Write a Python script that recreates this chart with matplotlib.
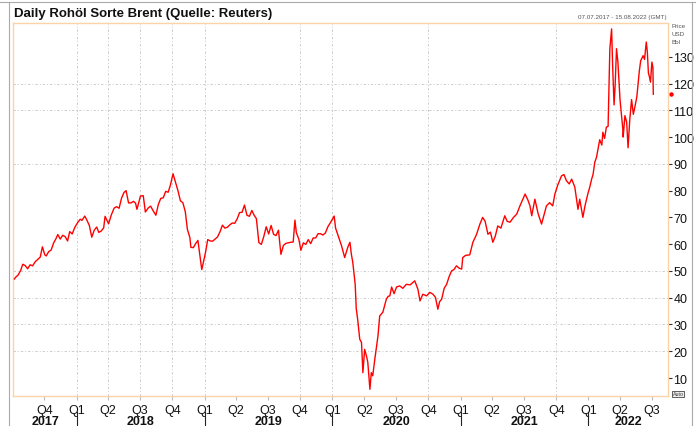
import matplotlib
matplotlib.use("Agg")
import matplotlib.pyplot as plt
import matplotlib.transforms as mtransforms
import pandas as pd

plt.rcParams['font.family'] = ['Liberation Sans', 'DejaVu Sans']

# Brent daily close (USD/bbl)
dates = [
    "2017-07-07", "2017-07-12", "2017-07-18", "2017-07-25", "2017-07-31", "2017-08-07",
    "2017-08-14", "2017-08-21", "2017-08-28", "2017-09-05", "2017-09-12", "2017-09-19",
    "2017-09-25", "2017-10-02", "2017-10-06", "2017-10-13", "2017-10-20", "2017-10-27",
    "2017-11-03", "2017-11-08", "2017-11-15", "2017-11-22", "2017-11-29", "2017-12-06",
    "2017-12-12", "2017-12-19", "2017-12-27", "2018-01-04", "2018-01-11", "2018-01-16",
    "2018-01-24", "2018-01-30", "2018-02-06", "2018-02-13", "2018-02-20", "2018-02-27",
    "2018-03-05", "2018-03-12", "2018-03-19", "2018-03-23", "2018-04-02", "2018-04-10",
    "2018-04-18", "2018-04-25", "2018-05-02", "2018-05-09", "2018-05-16", "2018-05-22",
    "2018-05-29", "2018-06-05", "2018-06-12", "2018-06-18", "2018-06-22", "2018-07-02",
    "2018-07-10", "2018-07-16", "2018-07-24", "2018-07-31", "2018-08-08", "2018-08-15",
    "2018-08-22", "2018-08-29", "2018-09-05", "2018-09-12", "2018-09-19", "2018-09-25",
    "2018-10-03", "2018-10-10", "2018-10-17", "2018-10-24", "2018-10-31", "2018-11-07",
    "2018-11-13", "2018-11-20", "2018-11-23", "2018-11-30", "2018-12-06", "2018-12-13",
    "2018-12-18", "2018-12-24", "2018-12-27", "2019-01-04", "2019-01-10", "2019-01-17",
    "2019-01-24", "2019-01-31", "2019-02-07", "2019-02-14", "2019-02-21", "2019-02-28",
    "2019-03-07", "2019-03-14", "2019-03-21", "2019-03-28", "2019-04-04", "2019-04-11",
    "2019-04-18", "2019-04-25", "2019-05-02", "2019-05-09", "2019-05-16", "2019-05-22",
    "2019-05-29", "2019-06-05", "2019-06-12", "2019-06-19", "2019-06-26", "2019-07-03",
    "2019-07-10", "2019-07-17", "2019-07-24", "2019-07-31", "2019-08-07", "2019-08-14",
    "2019-08-21", "2019-08-28", "2019-09-04", "2019-09-11", "2019-09-16", "2019-09-20",
    "2019-09-27", "2019-10-03", "2019-10-10", "2019-10-17", "2019-10-24", "2019-10-31",
    "2019-11-07", "2019-11-14", "2019-11-21", "2019-11-28", "2019-12-05", "2019-12-12",
    "2019-12-19", "2019-12-27", "2020-01-06", "2020-01-10", "2020-01-16", "2020-01-27",
    "2020-02-05", "2020-02-14", "2020-02-20", "2020-02-24", "2020-02-28", "2020-03-06",
    "2020-03-09", "2020-03-13", "2020-03-19", "2020-03-24", "2020-03-28", "2020-04-02",
    "2020-04-07", "2020-04-11", "2020-04-17", "2020-04-21", "2020-04-25", "2020-05-01",
    "2020-05-10", "2020-05-15", "2020-05-24", "2020-06-03", "2020-06-08", "2020-06-13",
    "2020-06-18", "2020-06-25", "2020-07-02", "2020-07-11", "2020-07-20", "2020-07-30",
    "2020-08-10", "2020-08-23", "2020-09-01", "2020-09-07", "2020-09-15", "2020-09-26",
    "2020-10-05", "2020-10-14", "2020-10-21", "2020-10-28", "2020-11-02", "2020-11-08",
    "2020-11-15", "2020-11-22", "2020-11-29", "2020-12-06", "2020-12-13", "2020-12-20",
    "2020-12-28", "2021-01-04", "2021-01-07", "2021-01-15", "2021-01-27", "2021-02-05",
    "2021-02-15", "2021-02-25", "2021-03-05", "2021-03-12", "2021-03-20", "2021-03-27",
    "2021-04-03", "2021-04-10", "2021-04-17", "2021-04-26", "2021-05-07", "2021-05-14",
    "2021-05-22", "2021-06-01", "2021-06-10", "2021-06-20", "2021-07-04", "2021-07-12",
    "2021-07-18", "2021-07-23", "2021-08-01", "2021-08-10", "2021-08-20", "2021-09-03",
    "2021-09-12", "2021-09-21", "2021-09-27", "2021-10-05", "2021-10-16", "2021-10-23",
    "2021-10-30", "2021-11-07", "2021-11-14", "2021-11-23", "2021-11-28", "2021-12-02",
    "2021-12-07", "2021-12-16", "2021-12-22", "2021-12-30", "2022-01-05", "2022-01-10",
    "2022-01-14", "2022-01-19", "2022-01-24", "2022-02-02", "2022-02-08", "2022-02-11",
    "2022-02-16", "2022-02-21", "2022-02-26", "2022-03-03", "2022-03-08", "2022-03-11",
    "2022-03-15", "2022-03-18", "2022-03-22", "2022-03-26", "2022-04-01", "2022-04-05",
    "2022-04-09", "2022-04-10", "2022-04-15", "2022-04-20", "2022-04-24", "2022-04-29",
    "2022-05-04", "2022-05-09", "2022-05-14", "2022-05-19", "2022-05-22", "2022-05-26",
    "2022-05-30", "2022-06-06", "2022-06-10", "2022-06-15", "2022-06-18", "2022-06-21",
    "2022-06-24", "2022-06-27", "2022-07-01", "2022-07-04", "2022-07-05",
]
prices = [
    47.0, 47.8, 48.5, 50.2, 52.5, 52.0,
    50.8, 52.3, 51.9, 53.5, 54.3, 55.2,
    59.0, 56.0, 55.6, 57.2, 57.8, 60.4,
    62.1, 63.6, 61.9, 63.3, 62.8, 61.2,
    64.7, 63.8, 66.4, 68.1, 69.3, 68.9,
    70.5, 69.0, 67.0, 62.6, 65.2, 66.4,
    64.4, 64.9, 66.1, 70.4, 67.6, 71.0,
    73.5, 74.0, 73.4, 77.2, 79.3, 80.0,
    75.4, 75.4, 76.0, 75.3, 73.0, 78.0,
    78.1, 72.0, 73.5, 74.2, 72.3, 70.8,
    74.8, 77.1, 77.3, 79.7, 79.4, 81.8,
    86.3, 83.1, 80.0, 76.2, 75.5, 72.1,
    65.5, 62.5, 58.8, 58.7, 60.1, 61.4,
    56.3, 50.5, 52.2, 57.1, 61.7, 61.2,
    61.1, 61.9, 62.7, 64.6, 67.1, 66.0,
    66.3, 67.2, 67.9, 67.8, 69.4, 71.8,
    71.9, 74.6, 70.8, 70.4, 72.6, 70.9,
    69.5, 60.6, 59.9, 62.8, 66.5, 63.8,
    67.0, 63.7, 63.2, 65.2, 56.2, 59.5,
    60.3, 60.5, 60.7, 60.8, 69.0, 64.3,
    61.9, 57.7, 60.5, 59.9, 61.7, 60.2,
    62.3, 62.3, 63.9, 63.9, 63.4, 64.2,
    66.5, 68.2, 70.5, 66.0, 63.7, 59.4,
    55.0, 58.9, 60.7, 56.3, 53.3, 45.0,
    36.0, 32.0, 24.5, 23.3, 12.0, 20.7,
    18.3, 15.9, 5.8, 12.0, 10.8, 17.0,
    25.7, 33.2, 34.6, 39.5, 40.5, 40.7,
    44.0, 41.5, 44.0, 44.4, 43.5, 45.0,
    44.8, 46.3, 43.2, 38.8, 41.3, 40.7,
    42.0, 41.3, 40.2, 35.7, 38.5, 39.5,
    43.5, 45.0, 47.8, 50.0, 50.5, 51.9,
    51.0, 50.7, 55.0, 55.8, 56.0, 60.7,
    63.5, 67.5, 70.0, 68.5, 63.7, 64.5,
    60.7, 63.0, 66.8, 66.0, 70.6, 68.5,
    68.2, 70.0, 71.2, 74.5, 78.7, 76.5,
    74.3, 70.6, 76.8, 71.5, 67.5, 74.3,
    75.5, 74.3, 78.7, 82.0, 85.5, 86.0,
    83.7, 82.5, 84.3, 81.3, 76.8, 73.0,
    76.8, 70.0, 74.3, 78.7, 81.5, 84.3,
    86.0, 90.6, 92.5, 99.0, 97.0, 101.8,
    99.5, 103.7, 104.0, 133.0, 140.4, 126.6,
    112.0, 119.0, 133.0, 128.0, 114.0, 108.5,
    103.0, 100.0, 108.0, 105.6, 96.0, 106.7,
    114.0, 108.5, 111.6, 115.0, 119.0, 124.5,
    128.5, 130.4, 129.0, 135.5, 131.8, 124.0,
    122.5, 120.5, 128.0, 126.0, 116.0,
]

quarter_starts = pd.date_range("2017-10-01", "2022-07-01", freq="QS")
quarter_labels = ["Q%d" % q.quarter for q in quarter_starts]
years = [2017, 2018, 2019, 2020, 2021, 2022]
y_ticks = [10, 20, 30, 40, 50, 60, 70, 80, 90, 100, 110, 120, 130]
grid_y = [20, 30, 40, 50, 90, 110, 120]
grid_x = ["2018-01-01", "2018-04-01", "2018-07-01", "2018-10-01", "2019-01-01",
          "2019-10-01", "2020-01-01", "2020-10-01", "2021-10-01"]

x_start = pd.Timestamp("2017-07-04")
x_end = pd.Timestamp("2022-08-16")

fig = plt.figure(figsize=(6.96, 4.27), dpi=100)
ax = fig.add_axes([13.3 / 696, 1 - 396.7 / 427, (668 - 13.3) / 696, (396.7 - 24) / 427])

x = pd.to_datetime(dates)
ax.plot(x, prices, color="#ff0000", lw=1.0, zorder=3)

ax.set_xlim(x_start, x_end)
ax.set_ylim(3.4, 142.6)

# grid
gstyle = dict(color="#cdcdcd", lw=0.7, ls=(0, (2.5, 2, 1, 2)), zorder=1)
for g in grid_y:
    ax.axhline(g, **gstyle)
for g in grid_x:
    ax.axvline(pd.Timestamp(g), **gstyle)

# frame
for s in ax.spines.values():
    s.set_color("#fbd3a8")
    s.set_linewidth(1.0)

# y axis on right
ax.yaxis.tick_right()
ax.set_yticks(y_ticks)
ax.tick_params(axis="y", direction="out", length=3, width=0.8, color="#333333",
               pad=1, labelsize=9, labelcolor="#111111")

# x axis quarters
ax.set_xticks(quarter_starts)
ax.set_xticklabels(quarter_labels)
ax.tick_params(axis="x", direction="out", length=3, width=0.8, color="#bbbbbb",
               pad=3, labelsize=9, labelcolor="#111111")

# year labels and separators
trans = mtransforms.blended_transform_factory(ax.transData, ax.transAxes)
for yr in years:
    left = max(pd.Timestamp(f"{yr}-01-01"), x_start)
    right = min(pd.Timestamp(f"{yr + 1}-01-01"), x_end)
    mid = left + (right - left) / 2
    ax.text(mid, -0.068, str(yr), transform=trans, ha="center", va="center",
            fontsize=9, fontweight="bold", color="#111111")
    if yr > 2017:
        ax.plot([pd.Timestamp(f"{yr}-01-01")] * 2, [-0.044, -0.085], transform=trans,
                color="#222222", lw=0.8, clip_on=False)

# last price marker on right edge
mtrans = mtransforms.blended_transform_factory(ax.transAxes, ax.transData)
ax.plot([1.004], [prices[-1]], transform=mtrans, marker="o", ms=2.2, color="#ff0000",
        clip_on=False)

# texts
fig.text(14 / 696, 1 - 14 / 427, "Daily Rohöl Sorte Brent (Quelle: Reuters)",
         fontsize=9.5, fontweight="bold", ha="left", va="center", color="#111111")
fig.text(667 / 696, 1 - 17 / 427, "07.07.2017 - 15.08.2022 (GMT)", fontsize=4.5,
         ha="right", va="center", color="#555555")
for i, t in enumerate(["Price", "USD", "Bbl"]):
    fig.text(671 / 696, 1 - (26 + 8 * i) / 427, t, fontsize=4.5, ha="left",
             va="center", color="#555555")
fig.text(678 / 696, 1 - 395 / 427, "Auto", fontsize=3.8, ha="center", va="center",
         color="#333333", bbox=dict(boxstyle="square,pad=0.15", fc="#eeeeee",
                                    ec="#444444", lw=0.6))

# outer frame
fig.add_artist(plt.Line2D([0, 1], [1 - 3 / 427] * 2, color="#aaaaaa", lw=0.8,
                          transform=fig.transFigure))
fig.add_artist(plt.Line2D([9 / 696] * 2, [0, 1 - 3 / 427], color="#aaaaaa", lw=0.8,
                          transform=fig.transFigure))
fig.add_artist(plt.Line2D([692 / 696] * 2, [0, 1 - 3 / 427], color="#aaaaaa", lw=0.8,
                          transform=fig.transFigure))

fig.savefig("out.png", dpi=100)
